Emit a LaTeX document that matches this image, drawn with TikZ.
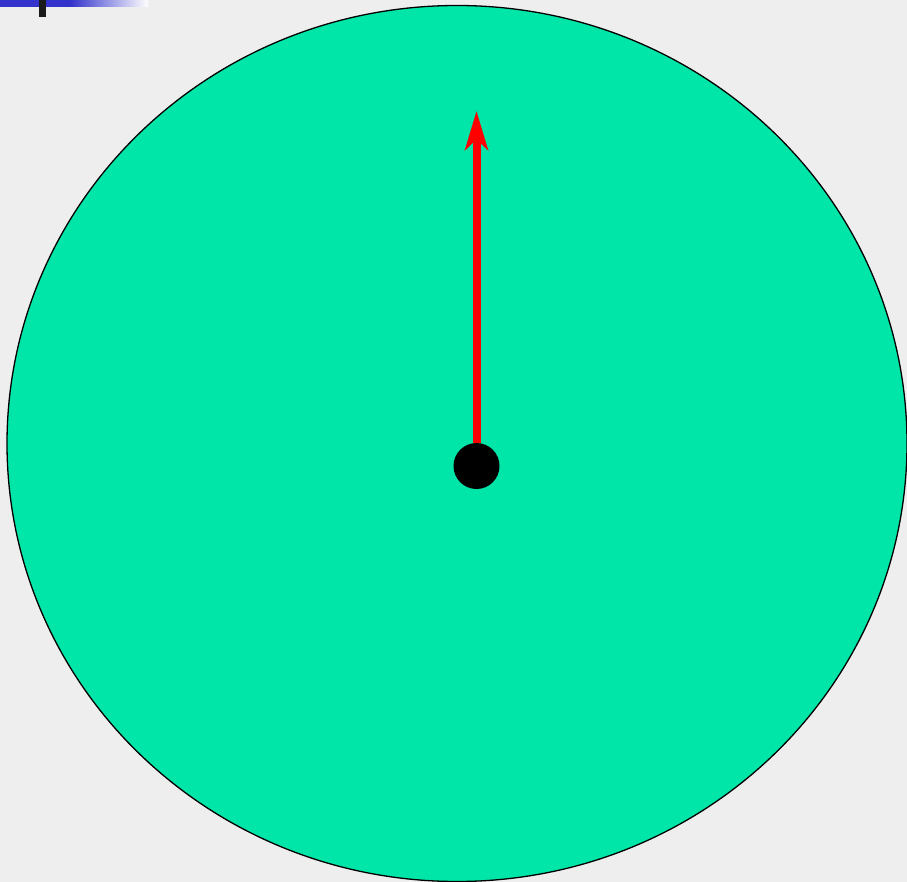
\documentclass[tikz,border=0pt]{standalone}
\usetikzlibrary{arrows.meta}
\definecolor{bgGrey}{HTML}{EEEEEE}
\definecolor{discGreen}{HTML}{00E5A8}
\definecolor{barBlue}{HTML}{3333CC}
\definecolor{barBlack}{HTML}{1A1A1A}
\tikzset{
  hubdot/.style={circle, fill=black, minimum size=46pt, inner sep=0pt},
  pointer/.style={red, line width=8pt, -{Stealth[length=39pt, width=23pt, inset=11pt]}}
}
\begin{document}
\begin{tikzpicture}[x=1pt,y=-1pt]
\fill[bgGrey] (0,0) rectangle (907,882);
\useasboundingbox (0,0) rectangle (907,882);
% corner bars
\fill[barBlue] (0,0) rectangle (70,7);
\shade[left color=barBlue, right color=white] (70,0) rectangle (148,7);
\fill[barBlack] (39,0) rectangle (46,17);
% disc
\draw[fill=discGreen, line width=1.3pt] (457,443.5) ellipse [x radius=450, y radius=438];
\node[hubdot] (hub) at (476.5,466) {};
\coordinate (tip) at (476.5,111);
\draw[pointer] (hub) -- (tip);
\end{tikzpicture}
\end{document}
